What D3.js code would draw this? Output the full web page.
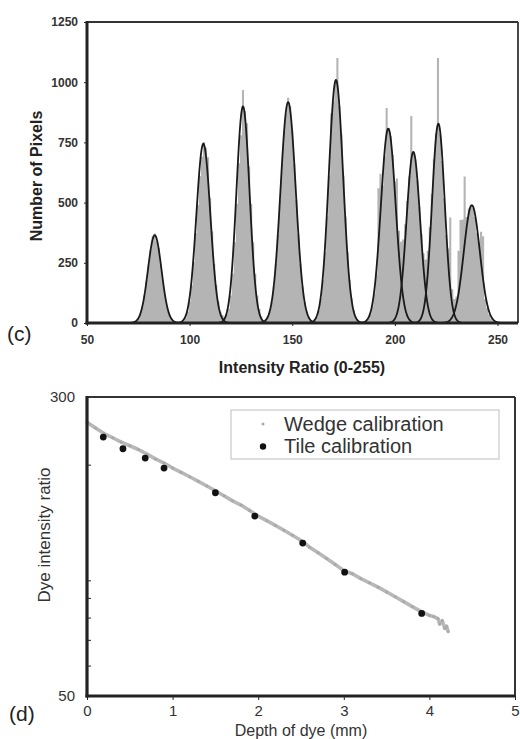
<!DOCTYPE html>
<html lang="en">
<head>
    <meta charset="UTF-8">
    <title>Intensity histogram and dye calibration</title>
    <script src="https://d3js.org/d3.v7.min.js"></script>
    <style>
        body { margin: 0; background: #fff; }
        svg { font-family: "Liberation Sans", Arial, sans-serif; }
        .axis path { display: none; }
        .axis line { stroke: #222; }
        .hist-axis text { font-size: 12px; font-weight: bold; fill: #333; }
        .cal-axis text { font-size: 15px; fill: #333; }
    </style>
</head>
<body>
<svg id="chart" width="520" height="739"></svg>
<script>

// ---- (c) histogram of intensity ratio ----
var histStart = 72;   // intensity of the first bin
var pixelCounts = [
    0, 4, 9, 19, 38, 70, 116, 175, 242, 304, 360, 372, 340, 310, 242, 175, 116, 70, 38, 19, 9, 4,
    0, 0, 0,
    10, 22, 47, 89, 157, 253, 373, 490, 610, 690, 752, 728, 688, 520, 380, 245, 157, 89, 47, 33, 25,
    36, 58, 114, 205, 335, 495, 663, 780, 968, 880, 830, 650, 495, 335, 205, 114, 58, 26, 11,
    16, 24, 48, 88, 153, 246, 368, 512, 661, 793, 870, 935, 900, 800, 661, 512, 368, 246, 153, 88, 48, 24, 11,
    6, 11, 25, 53, 102, 180, 294, 442, 613, 870, 921, 1000, 1100, 900, 783, 613, 442, 294, 180, 102, 53, 25, 11,
    0, 0, 0,
    7, 17, 36, 69, 122, 201, 560, 620, 571, 692, 893, 808, 777, 699, 588, 600, 383, 337, 347, 410,
    507, 609, 860, 711, 679, 592, 483, 371, 290, 264, 300, 399, 536, 680, 787, 1100, 787, 673, 519, 365,
    309, 438, 140, 100, 110, 300, 428, 430, 608, 440, 475, 490, 480, 440, 375, 330, 379, 360, 100, 62,
    35, 18, 9, 4, 0
];

// fitted peaks
var peakCenters = [83, 106.7, 126, 148, 171.3, 196.8, 209, 221.2, 237.5];
var peakHeights = [365, 745, 900, 918, 1010, 808, 711, 829, 490];
var peakWidths  = [3.3, 3.4, 3.2, 3.7, 3.5, 3.6, 3.3, 3.1, 3.9];

var histXTicks = [50, 100, 150, 200, 250];
var histYTicks = [0, 250, 500, 750, 1000, 1250];

// ---- (d) calibration ----
var wedgeDepth = [0, 0.1, 0.2, 0.3, 0.4, 0.5, 0.6, 0.7, 0.8, 0.9, 1.0, 1.1, 1.2, 1.3, 1.4, 1.5, 1.6, 1.7, 1.8, 1.9,
    2.0, 2.1, 2.2, 2.3, 2.4, 2.5, 2.6, 2.7, 2.8, 2.9, 3.0, 3.1, 3.2, 3.3, 3.4, 3.5, 3.6, 3.7, 3.8, 3.9,
    4.0, 4.05, 4.1, 4.12, 4.15, 4.18, 4.2, 4.22];
var wedgeRatio = [258, 249, 241, 235, 229, 224, 219, 213, 207, 202, 196, 191, 186, 181, 176, 171, 166, 161, 157, 152,
    147, 143, 139, 135, 131, 127, 122, 118, 114, 110, 106, 104, 101, 98.5, 96, 93.3, 90.6, 88, 85.4, 83,
    81, 80.5, 79.5, 77, 78.5, 75, 76, 73.5];

var tileDepth = [0.19, 0.42, 0.68, 0.90, 1.50, 1.96, 2.52, 3.01, 3.91];
var tileRatio = [236, 220, 208, 196, 169, 147, 125, 105, 82];

var calXTicks = [0, 1, 2, 3, 4, 5];
var calYTicks = [50, 60, 70, 80, 90, 100, 200, 300];
var calYLabels = [50, 300];

var svg = d3.select("#chart");

// ================= (c) =================
var x1 = d3.scaleLinear().domain([50, 260]).range([87, 518]);
var y1 = d3.scaleLinear().domain([0, 1250]).range([323, 22]);

var histG = svg.append("g");

// histogram drawn as one stepped area so the bars touch without seams
var histArea = d3.area()
    .x(function(d, i) { return x1(histStart + i - 0.5); })
    .y0(y1(0))
    .y1(function(d) { return y1(d); })
    .curve(d3.curveStepAfter);

histG.append("path")
    .attr("d", histArea(pixelCounts))
    .attr("fill", "#b4b4b4");

// gaussian fits
var fitLine = d3.line()
    .x(function(p) { return x1(p[0]); })
    .y(function(p) { return y1(p[1]); })
    .curve(d3.curveBasis);

peakCenters.forEach(function(c, k) {
    var pts = d3.range(c - 14, c + 14.01, 0.25).map(function(v) {
        var dx = v - c;
        return [v, peakHeights[k] * Math.exp(-dx * dx / (2 * peakWidths[k] * peakWidths[k]))];
    });
    histG.append("path")
        .attr("d", fitLine(pts))
        .attr("fill", "none")
        .attr("stroke", "#1a1a1a")
        .attr("stroke-width", 1.8);
});

// axes
histG.append("g")
    .attr("class", "axis hist-axis")
    .attr("transform", "translate(0,323)")
    .call(d3.axisBottom(x1).tickValues(histXTicks).tickSize(3).tickPadding(9));

histG.append("g")
    .attr("class", "axis hist-axis")
    .attr("transform", "translate(87,0)")
    .call(d3.axisLeft(y1).tickValues(histYTicks).tickSize(3).tickPadding(6).tickFormat(d3.format("d")));

// frame
histG.append("line").attr("x1", 87).attr("x2", 518).attr("y1", 22).attr("y2", 22)
    .attr("stroke", "#333").attr("stroke-width", 2.2);
histG.append("line").attr("x1", 518).attr("x2", 518).attr("y1", 22).attr("y2", 323)
    .attr("stroke", "#333").attr("stroke-width", 1.8);
histG.append("line").attr("x1", 85.5).attr("x2", 518).attr("y1", 323).attr("y2", 323)
    .attr("stroke", "#222").attr("stroke-width", 3);
histG.append("line").attr("x1", 87).attr("x2", 87).attr("y1", 21).attr("y2", 324.5)
    .attr("stroke", "#222").attr("stroke-width", 3);

histG.append("text")
    .attr("x", 302).attr("y", 373)
    .attr("text-anchor", "middle")
    .style("font-size", "16px").style("font-weight", "bold").style("fill", "#222")
    .text("Intensity Ratio (0-255)");

histG.append("text")
    .attr("transform", "translate(41.5,176) rotate(-90)")
    .attr("text-anchor", "middle")
    .style("font-size", "16px").style("font-weight", "bold").style("fill", "#222")
    .text("Number of Pixels");

histG.append("text")
    .attr("x", 7).attr("y", 341)
    .style("font-size", "21px").style("fill", "#222")
    .text("(c)");

// ================= (d) =================
var x2 = d3.scaleLinear().domain([0, 5]).range([87, 515]);
var y2 = d3.scaleLog().domain([50, 300]).range([696, 397]);

var calG = svg.append("g");

calG.append("g")
    .attr("class", "axis cal-axis")
    .attr("transform", "translate(0,696)")
    .call(d3.axisBottom(x2).tickValues(calXTicks).tickSize(4).tickPadding(5).tickFormat(d3.format("d")));

calG.append("g")
    .attr("class", "axis cal-axis")
    .attr("transform", "translate(87,0)")
    .call(d3.axisLeft(y2).tickValues(calYTicks).tickSize(-4).tickPadding(12)
        .tickFormat(function(d) { return calYLabels.indexOf(d) >= 0 ? d : ""; }));

// wedge calibration (dense grey points)
var calLine = d3.line()
    .x(function(d, i) { return x2(wedgeDepth[i]); })
    .y(function(d) { return y2(d); });

calG.append("path")
    .attr("d", calLine(wedgeRatio))
    .attr("fill", "none")
    .attr("stroke", "#b8b8b8")
    .attr("stroke-width", 3.6)
    .attr("stroke-linejoin", "round");

calG.selectAll(".wedge")
    .data(wedgeRatio)
    .enter().append("circle")
    .attr("class", "wedge")
    .attr("cx", function(d, i) { return x2(wedgeDepth[i]); })
    .attr("cy", function(d) { return y2(d); })
    .attr("r", 1.5)
    .attr("fill", "#a9a9a9");

// tile calibration
calG.selectAll(".tile")
    .data(tileRatio)
    .enter().append("circle")
    .attr("class", "tile")
    .attr("cx", function(d, i) { return x2(tileDepth[i]); })
    .attr("cy", function(d) { return y2(d); })
    .attr("r", 3.4)
    .attr("fill", "#111");

// frame
calG.append("line").attr("x1", 87).attr("x2", 515).attr("y1", 397).attr("y2", 397)
    .attr("stroke", "#333").attr("stroke-width", 2);
calG.append("line").attr("x1", 515).attr("x2", 515).attr("y1", 397).attr("y2", 696)
    .attr("stroke", "#333").attr("stroke-width", 2);
calG.append("line").attr("x1", 85.5).attr("x2", 515).attr("y1", 696).attr("y2", 696)
    .attr("stroke", "#222").attr("stroke-width", 3);
calG.append("line").attr("x1", 87).attr("x2", 87).attr("y1", 396).attr("y2", 697.5)
    .attr("stroke", "#222").attr("stroke-width", 3.2);

// legend
var leg = calG.append("g");
leg.append("rect")
    .attr("x", 231).attr("y", 410).attr("width", 268).attr("height", 49)
    .attr("fill", "#fff").attr("stroke", "#c8c8c8").attr("stroke-width", 1.2);
leg.append("circle").attr("cx", 263).attr("cy", 424).attr("r", 1.5).attr("fill", "#a9a9a9");
leg.append("circle").attr("cx", 263).attr("cy", 446.5).attr("r", 3.2).attr("fill", "#111");
leg.append("text").attr("x", 284).attr("y", 431)
    .style("font-size", "20px").style("fill", "#333").text("Wedge calibration");
leg.append("text").attr("x", 284).attr("y", 453)
    .style("font-size", "20px").style("fill", "#333").text("Tile calibration");

calG.append("text")
    .attr("transform", "translate(50,535) rotate(-90)")
    .attr("text-anchor", "middle")
    .style("font-size", "17px").style("fill", "#333")
    .text("Dye intensity ratio");

calG.append("text")
    .attr("x", 301).attr("y", 735.5)
    .attr("text-anchor", "middle")
    .style("font-size", "16px").style("fill", "#333")
    .text("Depth of dye (mm)");

calG.append("text")
    .attr("x", 9).attr("y", 721)
    .style("font-size", "21px").style("fill", "#222")
    .text("(d)");

</script>
</body>
</html>
